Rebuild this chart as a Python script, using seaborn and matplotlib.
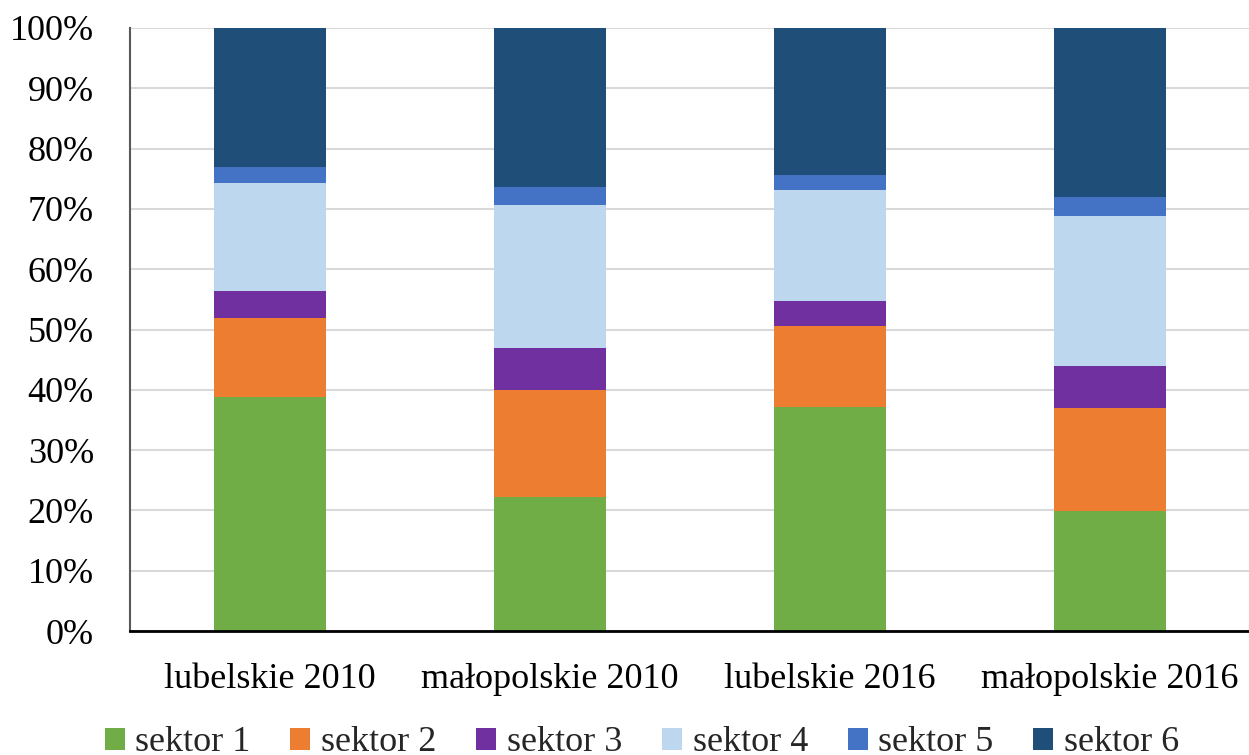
import numpy as np
import pandas as pd
import matplotlib
matplotlib.use("Agg")
import matplotlib.pyplot as plt
import seaborn as sns
from matplotlib.patches import Patch
from matplotlib.ticker import PercentFormatter

categories = ["lubelskie 2010", "małopolskie 2010", "lubelskie 2016", "małopolskie 2016"]
series_names = ["sektor 1", "sektor 2", "sektor 3", "sektor 4", "sektor 5", "sektor 6"]
sektor_1 = [38.8, 22.3, 37.2, 19.9]
sektor_2 = [13.1, 17.6, 13.3, 17.1]
sektor_3 = [4.5, 7.0, 4.2, 6.9]
sektor_4 = [17.9, 23.7, 18.4, 24.9]
sektor_5 = [2.6, 3.0, 2.6, 3.1]
sektor_6 = [23.1, 26.4, 24.3, 28.1]
colors = ["#70AD47", "#ED7D31", "#7030A0", "#BDD7EE", "#4472C4", "#1F4E79"]

sns.set_theme(style="white")
plt.rcParams["font.family"] = ["Liberation Serif", "DejaVu Serif"]

series = [sektor_1, sektor_2, sektor_3, sektor_4, sektor_5, sektor_6]
cum = np.cumsum(np.array(series), axis=0)

fig = plt.figure(figsize=(12.49, 7.55), dpi=100)
ax = fig.add_axes([130 / 1249, 1 - 631 / 755, 1120 / 1249, (631 - 28) / 755])

for i in range(len(series) - 1, -1, -1):
    df = pd.DataFrame({"cat": categories, "val": cum[i]})
    sns.barplot(data=df, x="cat", y="val", color=colors[i], width=0.4,
                saturation=1, ax=ax, order=categories, linewidth=0)

ax.set_ylim(0, 100)
ax.set_xlim(-0.5, 3.5)
ax.set_yticks(np.arange(0, 101, 10))
ax.yaxis.set_major_formatter(PercentFormatter(decimals=0))
ax.set_xlabel("")
ax.set_ylabel("")
ax.grid(axis="y", color="#d9d9d9", linewidth=1.5, zorder=0)
ax.set_axisbelow(True)
for s in ["top", "right"]:
    ax.spines[s].set_visible(False)
ax.spines["left"].set_color("#595959")
ax.spines["left"].set_linewidth(1.5)
ax.spines["bottom"].set_color("#000000")
ax.spines["bottom"].set_linewidth(2)
ax.tick_params(axis="y", labelsize=26, pad=26, length=0, colors="black")
ax.tick_params(axis="x", labelsize=26, pad=23, length=0, colors="black")

handles = [Patch(facecolor=c, edgecolor="none") for c in colors]
fig.legend(handles, series_names, loc="lower center", bbox_to_anchor=(0.514, -0.049),
           ncol=6, frameon=False, fontsize=26, handlelength=0.55, handleheight=0.55,
           handletextpad=0.3, columnspacing=1.1)

fig.savefig("out.png", dpi=100)
